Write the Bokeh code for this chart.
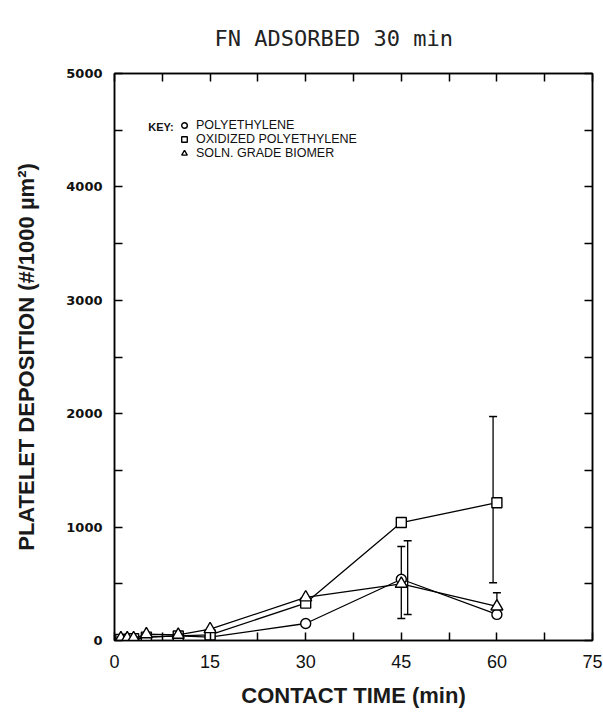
from bokeh.plotting import figure
from bokeh.models import (LinearAxis, FixedTicker, Range1d, Legend, LegendItem, Label)
from bokeh.embed import file_html
from bokeh.resources import INLINE

# ---- data ----
time_min = [1, 2, 3, 5, 10, 15, 30, 45, 60]
pe = [10, 15, 10, 30, 40, 30, 150, 540, 230]
ox_pe = [10, 10, 15, 30, 40, 50, 330, 1040, 1215]
biomer = [20, 20, 20, 55, 50, 100, 380, 500, 300]

err_x = [45, 46, 59.4, 60]
err_lo = [195, 230, 510, 200]
err_hi = [830, 880, 1975, 420]

x_ticks = [0, 15, 30, 45, 60, 75]
x_minor = [7.5, 22.5, 37.5, 52.5, 67.5]
y_ticks = [0, 1000, 2000, 3000, 4000, 5000]
y_minor = [500, 1500, 2500, 3500, 4500]

series_names = ["POLYETHYLENE", "OXIDIZED POLYETHYLENE", "SOLN. GRADE BIOMER"]
title_text = "FN ADSORBED 30 min"
x_label = "CONTACT TIME (min)"
y_label = "PLATELET DEPOSITION (#/1000 \u00b5m\u00b2)"

p = figure(width=603, height=719, output_backend="svg", toolbar_location=None,
           x_range=Range1d(0, 75), y_range=Range1d(0, 5000),
           min_border_left=114, min_border_right=11, min_border_top=73,
           min_border_bottom=79, x_axis_location=None, y_axis_location=None)
p.background_fill_color = "white"
p.border_fill_color = "white"
p.grid.visible = False
p.outline_line_color = "black"
p.outline_line_width = 1.5

p.title.text = title_text
p.title.text_font = "DejaVu Sans Mono"
p.title.text_font_size = "22px"
p.title.text_font_style = "normal"
p.title.text_color = "#222222"
p.title.align = "left"
p.title.offset = 100
p.title.standoff = 46

def style_axis(ax, ticks, minor, labels=True):
    ax.ticker = FixedTicker(ticks=ticks, minor_ticks=minor)
    ax.axis_line_color = "black"
    ax.axis_line_width = 1.5
    ax.major_tick_line_color = "black"
    ax.minor_tick_line_color = "black"
    ax.major_tick_line_width = 1.5
    ax.minor_tick_line_width = 1.5
    ax.major_tick_out = 0
    ax.minor_tick_out = 0
    ax.major_tick_in = 8
    ax.minor_tick_in = 8
    if not labels:
        ax.major_label_text_font_size = "0px"
        ax.major_label_text_color = None
        ax.major_label_standoff = 0

bottom = LinearAxis()
style_axis(bottom, x_ticks, x_minor)
bottom.major_label_text_font = "Liberation Sans"
bottom.major_label_text_font_size = "18px"
bottom.major_label_text_color = "#111111"
bottom.major_label_standoff = 14
bottom.axis_label = x_label
bottom.axis_label_text_font = "Liberation Sans"
bottom.axis_label_text_font_size = "22px"
bottom.axis_label_text_font_style = "bold"
bottom.axis_label_text_color = "#1a1a1a"
bottom.axis_label_standoff = 12
p.add_layout(bottom, "below")

left = LinearAxis()
style_axis(left, y_ticks, y_minor)
left.major_label_text_font = "DejaVu Sans"
left.major_label_text_font_style = "bold"
left.major_label_text_font_size = "13px"
left.major_label_text_color = "#111111"
left.major_label_standoff = 12
left.axis_label = y_label
left.axis_label_text_font = "Liberation Sans"
left.axis_label_text_font_size = "22px"
left.axis_label_text_font_style = "bold"
left.axis_label_text_color = "#1a1a1a"
left.axis_label_standoff = 24
p.add_layout(left, "left")

top = LinearAxis()
style_axis(top, sorted(x_ticks + x_minor), [], labels=False)
p.add_layout(top, "above")

right = LinearAxis()
style_axis(right, sorted(y_ticks + y_minor), [], labels=False)
p.add_layout(right, "right")

# error bars
p.segment(x0=err_x, y0=err_lo, x1=err_x, y1=err_hi, line_color="black", line_width=1.3)
p.scatter(x=err_x, y=err_lo, marker="dash", size=8, line_color="black", line_width=1.5)
p.scatter(x=err_x, y=err_hi, marker="dash", size=8, line_color="black", line_width=1.5)

renderers = []
for vals, mk, sz in [(pe, "circle", 10), (ox_pe, "square", 10), (biomer, "triangle", 12)]:
    p.line(time_min, vals, line_color="black", line_width=1.3)
    r = p.scatter(time_min, vals, marker=mk, size=sz, fill_color="white",
                  line_color="black", line_width=1.4)
    renderers.append(r)

legend = Legend(items=[LegendItem(label=n, renderers=[r]) for n, r in zip(series_names, renderers)],
                location=(63, 480), orientation="vertical")
legend.background_fill_alpha = 0
legend.border_line_color = None
legend.padding = 0
legend.margin = 0
legend.spacing = 0
legend.glyph_width = 14
legend.glyph_height = 14
legend.label_height = 14
legend.label_standoff = 5
legend.label_text_font = "Liberation Sans"
legend.label_text_font_size = "12.5px"
legend.label_text_color = "#111111"
p.add_layout(legend, "center")

p.add_layout(Label(x=5.3, y=4525, text="KEY:", text_font="Liberation Sans",
                   text_font_size="11px", text_font_style="bold", text_baseline="middle",
                   text_color="#111111"))

open("out.html", "w").write(file_html(p, INLINE))
